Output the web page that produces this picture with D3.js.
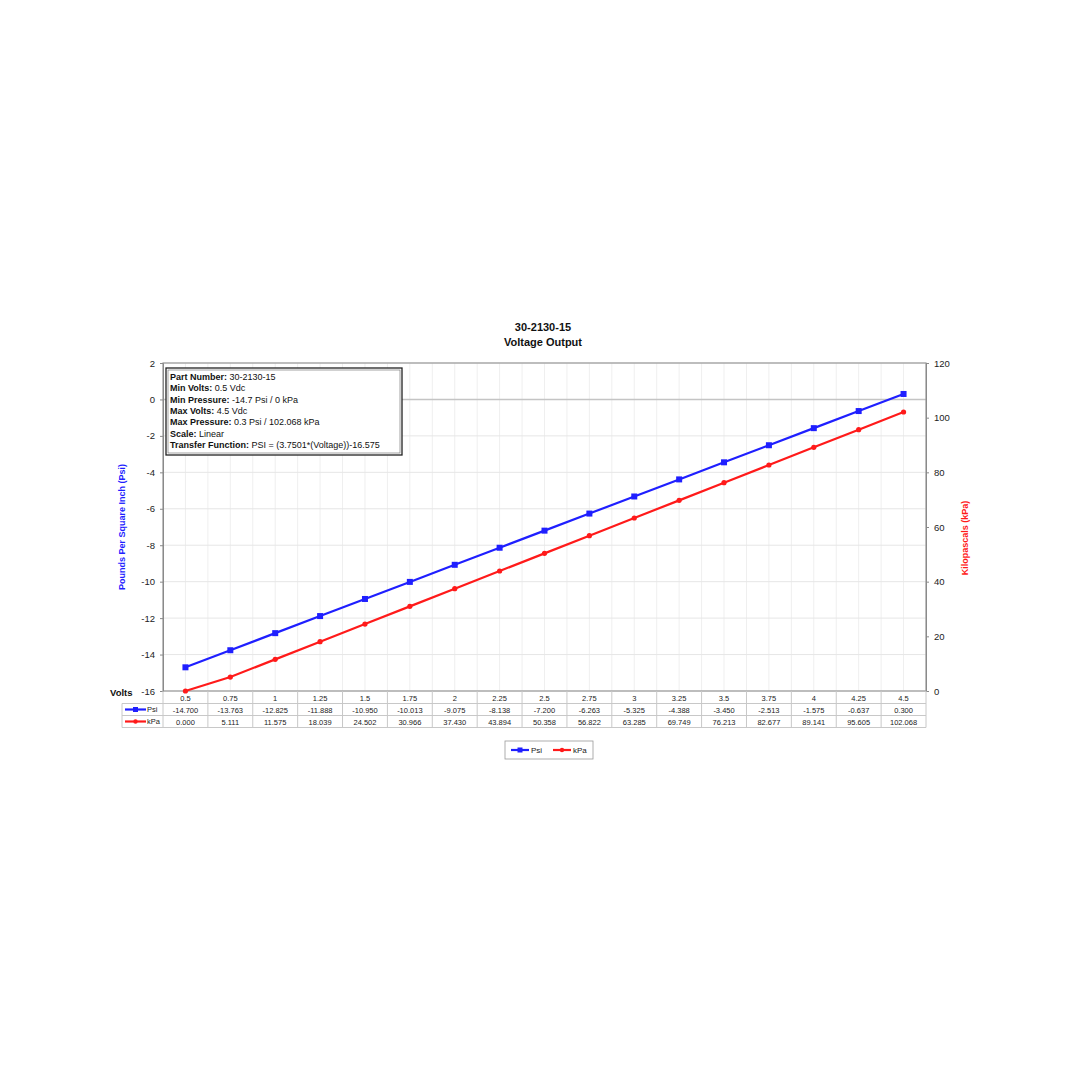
<!DOCTYPE html>
<html><head><meta charset="utf-8">
<script src="https://cdn.jsdelivr.net/npm/d3@7/dist/d3.min.js"></script>
<style>
html,body{margin:0;padding:0;background:#fff;}
svg{display:block;font-family:"Liberation Sans",Arial,sans-serif;}
</style></head>
<body><svg id="c" width="1080" height="1080"></svg>
<script>
const volts = ["0.5","0.75","1","1.25","1.5","1.75","2","2.25","2.5","2.75","3","3.25","3.5","3.75","4","4.25","4.5"];
const psi = [-14.700,-13.763,-12.825,-11.888,-10.950,-10.013,-9.075,-8.138,-7.200,-6.263,-5.325,-4.388,-3.450,-2.513,-1.575,-0.637,0.300];
const kpa = [0.000,5.111,11.575,18.039,24.502,30.966,37.430,43.894,50.358,56.822,63.285,69.749,76.213,82.677,89.141,95.605,102.068];
const psiTicks = [-16,-14,-12,-10,-8,-6,-4,-2,0,2];
const kpaTicks = [0,20,40,60,80,100,120];
const titleLines = ["30-2130-15","Voltage Output"];
const infoLabels = ["Part Number:","Min Volts:","Min Pressure:","Max Volts:","Max Pressure:","Scale:","Transfer Function:"];
const infoValues = ["30-2130-15","0.5 Vdc","-14.7 Psi / 0 kPa","4.5 Vdc","0.3 Psi / 102.068 kPa","Linear","PSI = (3.7501*(Voltage))-16.575"];
const seriesNames = ["Psi","kPa"];
const blue = "#1f1fff", red = "#ff1a1a";

const hy = s => s.replace(/\u2212/g, "-");
const f3 = d => hy(d3.format(".3f")(d));
const f0 = d => hy(d3.format("d")(d));

const svg = d3.select("#c");
const L = 163, R = 926, T = 363, B = 691;
const x = d3.scaleBand().domain(volts).range([L, R]).padding(0);
const cx = v => x(v) + x.bandwidth()/2;
const yL = d3.scaleLinear().domain([-16, 2]).range([B, T]);
const yR = d3.scaleLinear().domain([0, 120]).range([B, T]);

// grid
const g = svg.append("g");
const vlines = [];
volts.forEach(v => { vlines.push(x(v)); vlines.push(cx(v)); });
vlines.push(R);
g.selectAll("line.v").data(vlines).enter().append("line")
  .attr("x1", d => d).attr("x2", d => d).attr("y1", T).attr("y2", B)
  .attr("stroke", "#efefef").attr("stroke-width", 1);
g.selectAll("line.h").data(psiTicks).enter().append("line")
  .attr("x1", L).attr("x2", R).attr("y1", d => yL(d)).attr("y2", d => yL(d))
  .attr("stroke", d => d === 0 ? "#c4c4c4" : "#e6e6e6").attr("stroke-width", d => d === 0 ? 1.6 : 1);
// border
svg.append("rect").attr("x", L).attr("y", T).attr("width", R - L).attr("height", B - T)
  .attr("fill", "none").attr("stroke", "#9a9a9a").attr("stroke-width", 1.2);

// left axis
const axL = d3.axisLeft(yL).tickValues(psiTicks).tickFormat(f0).tickSize(3).tickPadding(5);
const gl = svg.append("g").attr("transform", `translate(${L},0)`).call(axL);
gl.select(".domain").attr("stroke", "#8a8a8a");
gl.selectAll(".tick line").attr("stroke", "#8a8a8a");
gl.selectAll("text").attr("font-size", 9.5).attr("fill", "#222").attr("font-family", "Liberation Sans, Arial, sans-serif");
// right axis
const axR = d3.axisRight(yR).tickValues(kpaTicks).tickFormat(f0).tickSize(3).tickPadding(5);
const gr = svg.append("g").attr("transform", `translate(${R},0)`).call(axR);
gr.select(".domain").attr("stroke", "#8a8a8a");
gr.selectAll(".tick line").attr("stroke", "#8a8a8a");
gr.selectAll("text").attr("font-size", 9.5).attr("fill", "#222").attr("font-family", "Liberation Sans, Arial, sans-serif");

// axis titles
svg.append("text").attr("transform", `translate(125,527) rotate(-90)`).attr("text-anchor", "middle")
  .attr("font-size", 9).attr("font-weight", "bold").attr("fill", blue).text("Pounds Per Square Inch (Psi)");
svg.append("text").attr("transform", `translate(968,538) rotate(-90)`).attr("text-anchor", "middle")
  .attr("font-size", 9).attr("font-weight", "bold").attr("fill", red).text("Kilopascals (kPa)");

// title
svg.selectAll("text.title").data(titleLines).enter().append("text")
  .attr("x", 543).attr("y", (d, i) => 331 + i * 15).attr("text-anchor", "middle")
  .attr("font-size", 11).attr("font-weight", "bold").attr("fill", "#111").text(d => d);

// lines
const lineP = d3.line().x((d, i) => cx(volts[i])).y(d => yL(d));
const lineK = d3.line().x((d, i) => cx(volts[i])).y(d => yR(d));
svg.append("path").attr("d", lineP(psi)).attr("fill", "none").attr("stroke", blue).attr("stroke-width", 2.2);
svg.append("path").attr("d", lineK(kpa)).attr("fill", "none").attr("stroke", red).attr("stroke-width", 2.2);
svg.selectAll("rect.mp").data(psi).enter().append("rect")
  .attr("x", (d, i) => cx(volts[i]) - 3).attr("y", d => yL(d) - 3).attr("width", 6).attr("height", 6).attr("fill", blue);
svg.selectAll("circle.mk").data(kpa).enter().append("circle")
  .attr("cx", (d, i) => cx(volts[i])).attr("cy", d => yR(d)).attr("r", 2.6).attr("fill", red);

// info box
svg.append("rect").attr("x", 166).attr("y", 368).attr("width", 236).attr("height", 87)
  .attr("fill", "#fff").attr("stroke", "#222").attr("stroke-width", 1.3);
svg.append("rect").attr("x", 168).attr("y", 370).attr("width", 232).attr("height", 83)
  .attr("fill", "none").attr("stroke", "#666").attr("stroke-width", 0.6);
const info = svg.selectAll("text.info").data(infoLabels).enter().append("text")
  .attr("x", 170).attr("y", (d, i) => 380 + i * 11.3).attr("font-size", 9).attr("fill", "#111");
info.append("tspan").attr("font-weight", "bold").text(d => d);
info.append("tspan").text((d, i) => " " + infoValues[i]);

// data table
const rowY = [B, 703.5, 715.5, 727.5];
const tbl = svg.append("g");
const tc = "#c8c8c8";
tbl.append("line").attr("x1", 122).attr("x2", R).attr("y1", rowY[1]).attr("y2", rowY[1]).attr("stroke", tc);
tbl.append("line").attr("x1", 122).attr("x2", R).attr("y1", rowY[2]).attr("y2", rowY[2]).attr("stroke", tc);
tbl.append("line").attr("x1", 122).attr("x2", R).attr("y1", rowY[3]).attr("y2", rowY[3]).attr("stroke", tc);
const colB = volts.map(v => x(v)).concat([R]);
tbl.selectAll("line.cv").data(colB).enter().append("line")
  .attr("x1", d => d).attr("x2", d => d).attr("y1", B).attr("y2", rowY[3]).attr("stroke", tc);
tbl.append("line").attr("x1", 122).attr("x2", 122).attr("y1", rowY[1]).attr("y2", rowY[3]).attr("stroke", tc);
tbl.selectAll("text.cat").data(volts).enter().append("text")
  .attr("x", d => cx(d)).attr("y", 700.5).attr("text-anchor", "middle").attr("font-size", 7.5).attr("fill", "#222").text(d => d);
tbl.selectAll("text.pv").data(psi).enter().append("text")
  .attr("x", (d, i) => cx(volts[i])).attr("y", 712.5).attr("text-anchor", "middle").attr("font-size", 7.5).attr("fill", "#222")
  .text(d => f3(d));
tbl.selectAll("text.kv").data(kpa).enter().append("text")
  .attr("x", (d, i) => cx(volts[i])).attr("y", 724.5).attr("text-anchor", "middle").attr("font-size", 7.5).attr("fill", "#222")
  .text(d => f3(d));
svg.append("text").attr("x", 110).attr("y", 696).attr("font-size", 9.5).attr("font-weight", "bold").attr("fill", "#111").text("Volts");
const keyCol = [blue, red];
seriesNames.forEach((n, i) => {
  const yy = (rowY[i + 1] + rowY[i + 2]) / 2;
  tbl.append("line").attr("x1", 125).attr("x2", 146).attr("y1", yy).attr("y2", yy).attr("stroke", keyCol[i]).attr("stroke-width", 2.2);
  if (i === 0) tbl.append("rect").attr("x", 135.5 - 2.5).attr("y", yy - 2.5).attr("width", 5).attr("height", 5).attr("fill", blue);
  else tbl.append("circle").attr("cx", 135.5).attr("cy", yy).attr("r", 2.2).attr("fill", red);
  tbl.append("text").attr("x", 147).attr("y", yy + 2.7).attr("font-size", 7.5).attr("fill", "#222").text(n);
});

// legend
const lg = svg.append("g");
lg.append("rect").attr("x", 505).attr("y", 741).attr("width", 88).attr("height", 18).attr("fill", "#fff").attr("stroke", "#9a9a9a").attr("stroke-width", 0.8);
seriesNames.forEach((n, i) => {
  const x0 = 511 + i * 42, yy = 750;
  lg.append("line").attr("x1", x0).attr("x2", x0 + 18).attr("y1", yy).attr("y2", yy).attr("stroke", keyCol[i]).attr("stroke-width", 2.2);
  if (i === 0) lg.append("rect").attr("x", x0 + 6.5).attr("y", yy - 2.5).attr("width", 5).attr("height", 5).attr("fill", blue);
  else lg.append("circle").attr("cx", x0 + 9).attr("cy", yy).attr("r", 2.2).attr("fill", red);
  lg.append("text").attr("x", x0 + 20).attr("y", yy + 3).attr("font-size", 8).attr("fill", "#222").text(n);
});
</script></body></html>
